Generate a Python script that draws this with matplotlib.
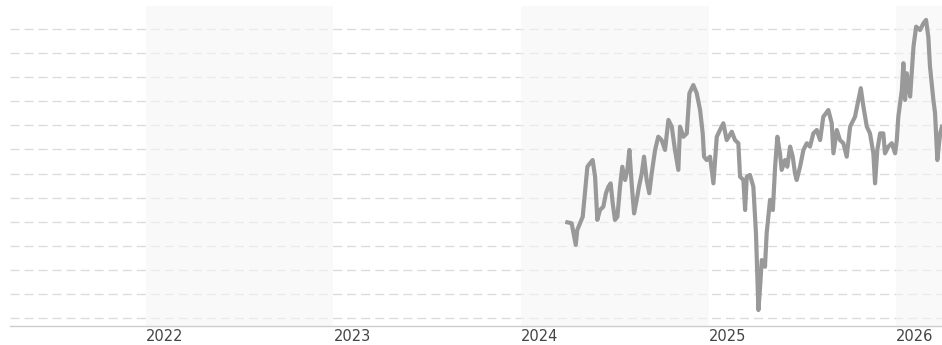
import numpy as np
import matplotlib.pyplot as plt

# price history, x in decimal years, y in chart units (one unit per grid line)
years = [2024.247, 2024.270, 2024.292, 2024.300, 2024.315, 2024.329, 2024.341, 2024.354,
         2024.368, 2024.382, 2024.395, 2024.407, 2024.421, 2024.439, 2024.453, 2024.466,
         2024.478, 2024.489, 2024.501, 2024.514, 2024.528, 2024.540, 2024.555, 2024.567,
         2024.578, 2024.590, 2024.603, 2024.617, 2024.629, 2024.644, 2024.656, 2024.670,
         2024.684, 2024.697, 2024.715, 2024.732, 2024.750, 2024.768, 2024.786, 2024.804,
         2024.821, 2024.839, 2024.848, 2024.866, 2024.884, 2024.898, 2024.919, 2024.937,
         2024.955, 2024.969, 2024.976, 2024.990, 2025.008, 2025.026, 2025.044, 2025.061,
         2025.079, 2025.097, 2025.124, 2025.141, 2025.159, 2025.168, 2025.186, 2025.195,
         2025.204, 2025.221, 2025.239, 2025.253, 2025.266, 2025.275, 2025.284, 2025.301,
         2025.310, 2025.328, 2025.343, 2025.355, 2025.367, 2025.381, 2025.390, 2025.408,
         2025.420, 2025.435, 2025.449, 2025.461, 2025.470, 2025.488, 2025.506, 2025.524,
         2025.541, 2025.559, 2025.577, 2025.595, 2025.612, 2025.639, 2025.657, 2025.666,
         2025.684, 2025.701, 2025.719, 2025.737, 2025.755, 2025.781, 2025.799, 2025.812,
         2025.826, 2025.844, 2025.861, 2025.879, 2025.888, 2025.900, 2025.915, 2025.932,
         2025.941, 2025.959, 2025.977, 2025.995, 2026.004, 2026.012, 2026.031, 2026.039,
         2026.048, 2026.057, 2026.075, 2026.093, 2026.107, 2026.128, 2026.146, 2026.160,
         2026.172, 2026.181, 2026.199, 2026.208, 2026.220, 2026.235, 2026.245]
values = [3.97, 3.93, 3.03, 3.65, 3.93, 4.20, 5.18, 6.28,
          6.43, 6.56, 5.87, 4.07, 4.48, 4.62, 5.18, 5.45,
          5.59, 4.76, 4.07, 4.20, 5.45, 6.28, 5.73, 6.15,
          6.98, 5.59, 4.34, 4.90, 5.45, 6.01, 6.70, 5.73,
          5.18, 6.01, 6.98, 7.53, 7.39, 6.98, 8.23, 7.95,
          6.98, 6.15, 7.95, 7.53, 7.67, 9.34, 9.68, 9.34,
          8.64, 7.67, 6.70, 6.56, 6.70, 5.59, 7.53, 7.81,
          8.09, 7.39, 7.74, 7.39, 7.26, 5.87, 5.73, 4.48,
          5.87, 5.94, 5.45, 3.51, 0.32, 1.29, 2.40, 2.12,
          3.51, 4.90, 4.48, 6.28, 7.53, 6.84, 6.15, 6.56,
          6.28, 7.12, 6.70, 6.01, 5.73, 6.28, 6.98, 7.26,
          7.12, 7.67, 7.81, 7.39, 8.36, 8.64, 8.09, 6.84,
          7.81, 7.39, 7.26, 6.70, 7.95, 8.36, 9.06, 9.55,
          8.78, 7.95, 7.67, 6.84, 5.59, 6.98, 7.67, 7.67,
          6.84, 7.12, 7.26, 6.84, 7.39, 8.36, 9.48, 10.59,
          9.06, 10.17, 9.20, 11.28, 12.11, 11.97, 12.25, 12.39,
          11.69, 10.45, 9.06, 8.51, 6.56, 7.67, 7.95]

tick_years = [2022, 2023, 2024, 2025, 2026]
shaded_years = [2022, 2024, 2026]
grid_levels = list(range(0, 13))

plt.rcParams['lines.scale_dashes'] = False

fig = plt.figure(figsize=(9.42, 3.45), dpi=100)
ax = fig.add_axes([10 / 942, 19 / 345, 932 / 942, 320 / 345])

x_min, x_max = 2021.275, 2026.245
y_min, y_max = -0.345, 12.97

for g in grid_levels:
    ax.axhline(g, color='#dcdcdc', lw=1.0, dashes=(6.5, 3.6), zorder=1)

# bands sit over the grid, so the dashes fade inside them
for y0 in shaded_years:
    ax.axvspan(y0, y0 + 1, color='#f6f6f6', alpha=0.6, lw=0, zorder=2)

ax.plot(years, values, color='#999999', lw=3.0, solid_joinstyle='round', zorder=3)

ax.set_xlim(x_min, x_max)
ax.set_ylim(y_min, y_max)
ax.set_yticks([])
ax.set_xticks(tick_years)
ax.set_xticklabels([str(y) for y in tick_years], ha='left', fontsize=10.5, color='#444444')
ax.tick_params(axis='x', length=0, pad=2)

for side in ['top', 'right', 'left']:
    ax.spines[side].set_visible(False)
ax.spines['bottom'].set_color('#cccccc')
ax.spines['bottom'].set_linewidth(1.0)

fig.savefig('out.png', dpi=100)
